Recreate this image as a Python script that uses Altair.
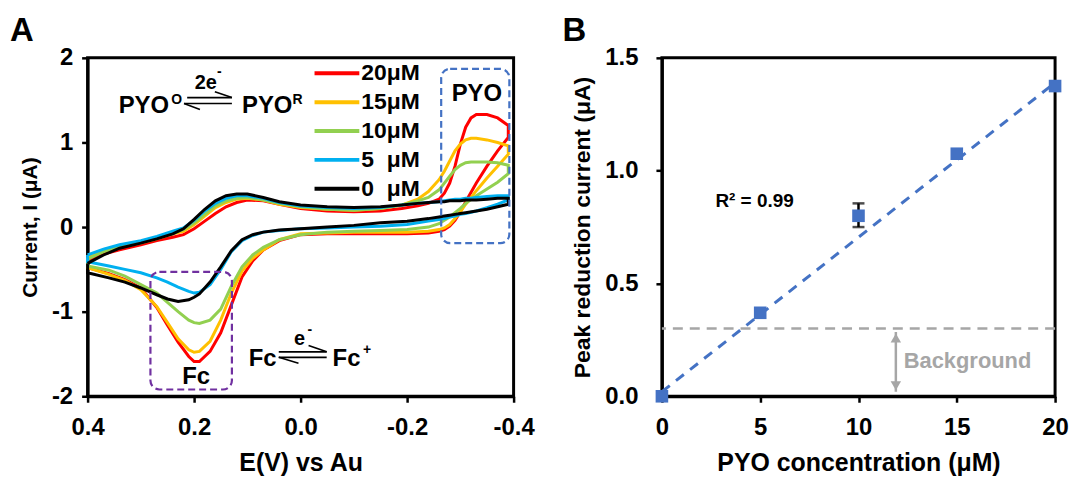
import altair as alt
import pandas as pd

FONT = "Liberation Sans"

# ---------------- Panel A: cyclic voltammograms ----------------
U_E = [0.40, 0.37, 0.34, 0.30, 0.27, 0.24, 0.22, 0.20, 0.18, 0.16, 0.14, 0.12, 0.10,
       0.07, 0.04, 0.00, -0.05, -0.10, -0.15, -0.19, -0.22, -0.24, -0.26, -0.27,
       -0.28, -0.29, -0.30, -0.31, -0.32, -0.33, -0.35, -0.37, -0.39]
L_E = [-0.39, -0.37, -0.35, -0.33, -0.31, -0.30, -0.29, -0.28, -0.27, -0.26, -0.24,
       -0.20, -0.15, -0.10, -0.05, 0.00, 0.04, 0.07, 0.09, 0.11, 0.13, 0.15, 0.17,
       0.19, 0.20, 0.21, 0.23, 0.25, 0.27, 0.30, 0.33, 0.36, 0.40]

up_20 = [-0.40, -0.32, -0.27, -0.21, -0.16, -0.12, -0.09, -0.02, 0.07, 0.16, 0.24, 0.29, 0.32,
         0.31, 0.27, 0.22, 0.19, 0.18, 0.19, 0.22, 0.25, 0.28, 0.33, 0.40,
         0.52, 0.72, 0.98, 1.18, 1.29, 1.33, 1.33, 1.29, 1.20]
lo_20 = [1.06, 0.90, 0.72, 0.52, 0.30, 0.18, 0.08, 0.01, -0.03, -0.05, -0.07,
         -0.08, -0.08, -0.08, -0.08, -0.09, -0.16, -0.27, -0.40, -0.59, -0.92, -1.25, -1.47,
         -1.59, -1.59, -1.53, -1.36, -1.16, -0.95, -0.72, -0.62, -0.55, -0.48]

up_15 = [-0.36, -0.29, -0.24, -0.19, -0.14, -0.08, -0.05, 0.03, 0.13, 0.23, 0.29, 0.33, 0.34,
         0.32, 0.27, 0.23, 0.21, 0.20, 0.22, 0.26, 0.33, 0.42, 0.56, 0.66,
         0.78, 0.90, 0.98, 1.03, 1.05, 1.05, 1.03, 1.00, 0.96]
lo_15 = [0.86, 0.72, 0.58, 0.43, 0.27, 0.18, 0.10, 0.03, -0.01, -0.03, -0.05,
         -0.06, -0.06, -0.06, -0.07, -0.08, -0.15, -0.27, -0.37, -0.52, -0.78, -1.10, -1.35,
         -1.47, -1.48, -1.45, -1.32, -1.13, -0.94, -0.74, -0.63, -0.56, -0.48]

up_10 = [-0.38, -0.29, -0.23, -0.18, -0.13, -0.07, -0.03, 0.05, 0.15, 0.25, 0.31, 0.34, 0.35,
         0.32, 0.28, 0.24, 0.21, 0.20, 0.22, 0.26, 0.31, 0.35, 0.44, 0.52,
         0.60, 0.68, 0.73, 0.76, 0.77, 0.77, 0.77, 0.76, 0.73]
lo_10 = [0.63, 0.53, 0.45, 0.37, 0.28, 0.22, 0.17, 0.12, 0.08, 0.04, 0.00,
         -0.03, -0.04, -0.05, -0.06, -0.09, -0.15, -0.24, -0.33, -0.47, -0.70, -0.97, -1.10,
         -1.14, -1.13, -1.10, -1.00, -0.89, -0.78, -0.68, -0.58, -0.51, -0.46]

up_5 = [-0.33, -0.26, -0.21, -0.16, -0.11, -0.05, -0.01, 0.08, 0.19, 0.28, 0.34, 0.37, 0.37,
        0.34, 0.29, 0.25, 0.23, 0.22, 0.23, 0.26, 0.28, 0.29, 0.30, 0.31,
        0.32, 0.33, 0.33, 0.34, 0.34, 0.35, 0.36, 0.37, 0.37]
lo_5 = [0.32, 0.27, 0.23, 0.19, 0.16, 0.15, 0.13, 0.12, 0.10, 0.09, 0.07,
        0.03, 0.01, 0.00, -0.01, -0.02, -0.04, -0.06, -0.10, -0.16, -0.29, -0.50, -0.68,
        -0.77, -0.78, -0.76, -0.71, -0.65, -0.60, -0.54, -0.50, -0.46, -0.41]

up_0 = [-0.43, -0.33, -0.25, -0.19, -0.14, -0.08, -0.02, 0.09, 0.21, 0.31, 0.37, 0.39, 0.39,
        0.35, 0.30, 0.26, 0.24, 0.23, 0.24, 0.26, 0.28, 0.29, 0.30, 0.30,
        0.31, 0.31, 0.31, 0.32, 0.32, 0.32, 0.33, 0.34, 0.34]
lo_0 = [0.27, 0.24, 0.21, 0.19, 0.17, 0.16, 0.15, 0.14, 0.13, 0.12, 0.10,
        0.07, 0.05, 0.02, 0.00, -0.02, -0.035, -0.06, -0.09, -0.15, -0.28, -0.47, -0.65,
        -0.79, -0.83, -0.86, -0.88, -0.85, -0.80, -0.72, -0.65, -0.60, -0.54]

series_labels = ["20μM", "15μM", "10μM", "5\u00a0\u00a0μM", "0\u00a0\u00a0μM"]
series_colors = ["#FF0000", "#FFC000", "#92D050", "#00B0F0", "#000000"]
upper_branches = [up_20, up_15, up_10, up_5, up_0]
lower_branches = [lo_20, lo_15, lo_10, lo_5, lo_0]

rows = []
for lab, up, lo in zip(series_labels, upper_branches, lower_branches):
    k = 0
    for e, i in zip(U_E, up):
        rows.append({"series": lab, "E": e, "I": i, "k": k}); k += 1
    for e, i in zip(L_E, lo):
        rows.append({"series": lab, "E": e, "I": i, "k": k}); k += 1
    rows.append({"series": lab, "E": U_E[0], "I": up[0], "k": k})
cv = pd.DataFrame(rows)

box_E = [-0.264, 0.282]
box_E2 = [-0.392, 0.129]
box_I = [1.87, -0.53]
box_I2 = [-0.19, -1.92]
box_col = ["#4472C4", "#7030A0"]
boxes = pd.DataFrame({"E": box_E, "E2": box_E2, "I": box_I, "I2": box_I2, "col": box_col})

arr_E = [0.213, 0.129, 0.219, 0.219, 0.041, -0.049, 0.041, 0.041]
arr_E2 = [0.129, 0.161, 0.129, 0.189, -0.049, -0.015, -0.049, 0.004]
arr_I = [1.53, 1.53, 1.46, 1.46, -1.475, -1.475, -1.54, -1.54]
arr_I2 = [1.53, 1.60, 1.46, 1.39, -1.475, -1.40, -1.54, -1.61]
arrows = pd.DataFrame({"E": arr_E, "E2": arr_E2, "I": arr_I, "I2": arr_I2})

big_text = ["PYO", "PYO", "PYO", "Fc", "Fc", "Fc"]
big_E = [0.247, 0.110, -0.331, 0.196, 0.045, -0.060]
big_I = [1.35, 1.35, 1.49, -1.86, -1.647, -1.647]
big_align = ["right", "left", "center", "center", "right", "left"]
bigtxt = pd.DataFrame({"t": big_text, "E": big_E, "I": big_I, "a": big_align})

mid_text = ["2e", "e"]
mid_E = [0.178, 0.002]
mid_I = [1.635, -1.39]
midtxt = pd.DataFrame({"t": mid_text, "E": mid_E, "I": mid_I})

sup_text = ["O", "R", "-", "-", "+"]
sup_E = [0.243, 0.015, 0.157, -0.013, -0.117]
sup_I = [1.46, 1.46, 1.79, -1.26, -1.50]
suptxt = pd.DataFrame({"t": sup_text, "E": sup_E, "I": sup_I})

xA = alt.X("E:Q",
           scale=alt.Scale(domain=[-0.4, 0.4], reverse=True, nice=False, zero=False),
           axis=alt.Axis(values=[0.4, 0.2, 0.0, -0.2, -0.4], labelFlush=False,
                         labelExpr="datum.value < -0.001 ? '-' + format(-datum.value, '.1f') : format(datum.value, '.1f')",
                         title="E(V) vs Au", titleFontSize=25, titlePadding=12, labelPadding=13))
yA = alt.Y("I:Q",
           scale=alt.Scale(domain=[-2, 2], nice=False, zero=False),
           axis=alt.Axis(values=[2, 1, 0, -1, -2],
                         labelExpr="datum.value < 0 ? '-' + format(-datum.value, 'd') : format(datum.value, 'd')",
                         title="Current, I (μA)", titleFontSize=21, titlePadding=11, labelPadding=9))

lines = alt.Chart(cv).mark_line(strokeWidth=3, clip=False).encode(
    x=xA, y=yA,
    color=alt.Color("series:N",
                    scale=alt.Scale(domain=series_labels, range=series_colors),
                    legend=alt.Legend(title=None, orient="none", legendX=239, legendY=4,
                                      symbolType="M-4.5,0H4.5", symbolSize=100, symbolStrokeWidth=4,
                                      labelFontSize=23, labelFont=FONT, labelFontWeight="bold",
                                      labelColor="black", labelOffset=13, rowPadding=5,
                                      labelLimit=200)),
    order="k:Q",
)

box_layer = alt.Chart(boxes).mark_rect(fillOpacity=0, strokeWidth=2.2, strokeDash=[7, 4],
                                       cornerRadius=9).encode(
    x="E:Q", x2="E2:Q", y="I:Q", y2="I2:Q",
    stroke=alt.Stroke("col:N", scale=None))

arrow_layer = alt.Chart(arrows).mark_rule(strokeWidth=1.6, color="black").encode(
    x="E:Q", x2="E2:Q", y="I:Q", y2="I2:Q")


def txt(df, align, size):
    return alt.Chart(df).mark_text(font=FONT, fontWeight="bold", fontSize=size, align=align,
                                   baseline="alphabetic", color="black").encode(
        x="E:Q", y="I:Q", text="t:N")


big_r = txt(bigtxt[bigtxt.a == "right"], "right", 24)
big_l = txt(bigtxt[bigtxt.a == "left"], "left", 24)
big_c = txt(bigtxt[bigtxt.a == "center"], "center", 24)
mid_c = txt(midtxt, "center", 20)
sup_l = txt(suptxt, "left", 14)

panelA = alt.layer(lines, box_layer, arrow_layer, big_r, big_l, big_c, mid_c, sup_l).properties(
    width=428, height=340,
    title=alt.TitleParams("A", anchor="start", frame="group", dx=-78, fontSize=33,
                          font=FONT, fontWeight="bold", color="black", offset=-2,
                          baseline="top"))

# ---------------- Panel B: calibration ----------------
conc = [0, 5, 10, 15, 20]
peak = [0.0, 0.37, 0.80, 1.075, 1.375]
err_lo = [0.75]
err_hi = [0.855]
err_x = [10]
trend_x = [0, 20]
trend_y = [0.02, 1.39]
background_level = [0.30]
arrow_x = [11.9]
arrow_y = [0.02]
arrow_y2 = [0.285]

pts = pd.DataFrame({"c": conc, "p": peak})
trend = pd.DataFrame({"c": trend_x, "p": trend_y})
err = pd.DataFrame({"c": err_x, "p": err_lo, "p2": err_hi})
bg = pd.DataFrame({"p": background_level})
garrow = pd.DataFrame({"c": arrow_x, "p": arrow_y, "p2": arrow_y2})

xB = alt.X("c:Q", scale=alt.Scale(domain=[0, 20], nice=False),
           axis=alt.Axis(values=[0, 5, 10, 15, 20], format="d", labelFlush=False,
                         title="PYO concentration (μM)", titleFontSize=25, titlePadding=12,
                         labelPadding=13))
yB = alt.Y("p:Q", scale=alt.Scale(domain=[0, 1.5], nice=False),
           axis=alt.Axis(values=[0, 0.5, 1.0, 1.5], format=".1f",
                         title="Peak reduction current (μA)", titleFontSize=23, titlePadding=10,
                         labelPadding=18))

bg_layer = alt.Chart(bg).mark_rule(color="#A6A6A6", strokeWidth=2.5, strokeDash=[10, 7]).encode(y=yB)
trend_layer = alt.Chart(trend).mark_line(color="#4472C4", strokeWidth=3, strokeDash=[10, 8]).encode(x=xB, y="p:Q")
err_rule = alt.Chart(err).mark_rule(color="black", strokeWidth=2.5).encode(x="c:Q", y="p:Q", y2="p2:Q")
err_cap_lo = alt.Chart(err).mark_tick(color="black", thickness=2.5, size=12, orient="horizontal").encode(x="c:Q", y="p:Q")
err_cap_hi = alt.Chart(err).mark_tick(color="black", thickness=2.5, size=12, orient="horizontal").encode(x="c:Q", y="p2:Q")
pts_layer = alt.Chart(pts).mark_square(size=160, color="#4472C4", opacity=1, clip=False).encode(x="c:Q", y="p:Q")
g_rule = alt.Chart(garrow).mark_rule(color="#A6A6A6", strokeWidth=2.5).encode(x="c:Q", y="p:Q", y2="p2:Q")
g_up = alt.Chart(garrow).mark_point(shape="triangle-up", size=110, filled=True, color="#A6A6A6",
                                    opacity=1, yOffset=6).encode(x="c:Q", y="p2:Q")
g_dn = alt.Chart(garrow).mark_point(shape="triangle-down", size=110, filled=True, color="#A6A6A6",
                                    opacity=1, yOffset=-6).encode(x="c:Q", y="p:Q")

bg_text = pd.DataFrame({"c": [12.3], "p": [0.155], "t": ["Background"]})
r2_text = pd.DataFrame({"c": [2.72], "p": [0.865], "t": ["R² = 0.99"]})
bg_txt = alt.Chart(bg_text).mark_text(font=FONT, fontWeight="bold", fontSize=22, align="left",
                                      baseline="middle", color="#A6A6A6").encode(x="c:Q", y="p:Q", text="t:N")
r2_txt = alt.Chart(r2_text).mark_text(font=FONT, fontWeight="bold", fontSize=19, align="left",
                                      baseline="middle", color="black").encode(x="c:Q", y="p:Q", text="t:N")

panelB = alt.layer(bg_layer, trend_layer, err_rule, err_cap_lo, err_cap_hi, pts_layer,
                   g_rule, g_up, g_dn, bg_txt, r2_txt).properties(
    width=395, height=340,
    title=alt.TitleParams("B", anchor="start", frame="group", dx=-100, fontSize=33,
                          font=FONT, fontWeight="bold", color="black", offset=-2,
                          baseline="top"))

chart = alt.hconcat(panelA, panelB, spacing=24).properties(
    padding={"left": 8, "top": 12, "right": 2, "bottom": 1},
    background="white",
).configure_view(stroke="black", strokeWidth=3).configure_axis(
    domainColor="black", domainWidth=3, tickColor="black", tickWidth=2.5, tickSize=6,
    labelFont=FONT, labelFontSize=24, labelFontWeight="bold", labelColor="black",
    titleFont=FONT, titleFontWeight="bold", titleColor="black", grid=False,
).configure_legend(padding=0)

chart.save("out.html", embed_options={"renderer": "svg", "actions": False})
